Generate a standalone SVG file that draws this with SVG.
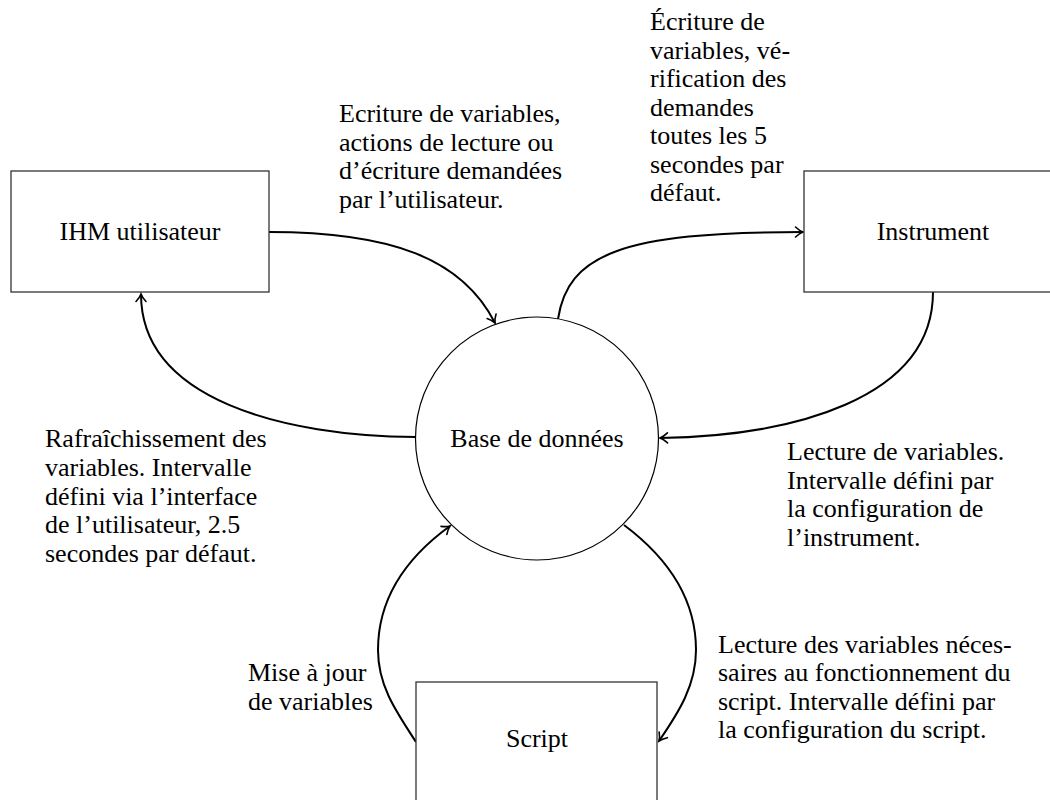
<svg xmlns="http://www.w3.org/2000/svg" width="1050" height="800" viewBox="0 0 1050 800">
  <style>
    .box { fill: #ffffff; stroke: #333333; stroke-width: 1.3; }
    .circ { fill: #ffffff; stroke: #000000; stroke-width: 1.2; }
    .lbl { font-family: "Liberation Serif", "Times New Roman", serif; font-size: 26px; fill: #000000; }
    .mid { text-anchor: middle; }
    .edge { fill: none; stroke: #000000; stroke-width: 2; marker-end: url(#arr); }
  </style>
  <defs>
    <marker id="arr" markerUnits="userSpaceOnUse" markerWidth="14" markerHeight="14" viewBox="-10 -7 14 14" refX="0" refY="0" orient="auto" overflow="visible">
      <path d="M-7.5,-5 C-4.5,-2.2 -1.8,-0.6 0,0 C-1.8,0.6 -4.5,2.2 -7.5,5" fill="none" stroke="#000000" stroke-width="1.6" stroke-linecap="round"/>
    </marker>
  </defs>
  <rect width="1050" height="800" fill="#ffffff"/>

  <g id="connectors">
    <path class="edge" d="M269,232 C390,232 462,258 495,323"/>
    <path class="edge" d="M558,319 C568,255 620,232 803,232"/>
    <path class="edge" d="M933,292 C933,400 790,436 660,438"/>
    <path class="edge" d="M416,437 C284,436 141,400 141,294"/>
    <path class="edge" d="M416,742 C395,710 378,685 378,650 C378,595 410,555 450,526"/>
    <path class="edge" d="M624,525 C664,555 696,595 696,650 C696,685 679,712 659,741"/>
  </g>

  <g id="ihm">
    <rect class="box" x="11" y="171" width="258" height="121"/>
    <text class="lbl mid" x="140" y="240">IHM utilisateur</text>
  </g>
  <g id="instrument">
    <rect class="box" x="804" y="171" width="258" height="121"/>
    <text class="lbl mid" x="933" y="240">Instrument</text>
  </g>
  <g id="base">
    <circle class="circ" cx="537" cy="438.5" r="121.5"/>
    <text class="lbl mid" x="537" y="447">Base de données</text>
  </g>
  <g id="script">
    <rect class="box" x="416" y="682" width="241" height="121"/>
    <text class="lbl mid" x="537" y="747">Script</text>
  </g>

  <g id="labels">
    <text class="lbl" x="339">
      <tspan x="339" y="122">Ecriture de variables,</tspan>
      <tspan x="339" y="150.5">actions de lecture ou</tspan>
      <tspan x="339" y="179">d’écriture demandées</tspan>
      <tspan x="339" y="207.5">par l’utilisateur.</tspan>
    </text>
    <text class="lbl" x="650">
      <tspan x="650" y="30">Écriture de</tspan>
      <tspan x="650" y="58.5">variables, vé-</tspan>
      <tspan x="650" y="87">rification des</tspan>
      <tspan x="650" y="115.5">demandes</tspan>
      <tspan x="650" y="144">toutes les 5</tspan>
      <tspan x="650" y="172.5">secondes par</tspan>
      <tspan x="650" y="201">défaut.</tspan>
    </text>
    <text class="lbl" x="45">
      <tspan x="45" y="447">Rafraîchissement des</tspan>
      <tspan x="45" y="475.8">variables. Intervalle</tspan>
      <tspan x="45" y="504.5">défini via l’interface</tspan>
      <tspan x="45" y="533.3">de l’utilisateur, 2.5</tspan>
      <tspan x="45" y="562">secondes par défaut.</tspan>
    </text>
    <text class="lbl" x="787">
      <tspan x="787" y="460">Lecture de variables.</tspan>
      <tspan x="787" y="488.6">Intervalle défini par</tspan>
      <tspan x="787" y="517.2">la configuration de</tspan>
      <tspan x="787" y="545.8">l’instrument.</tspan>
    </text>
    <text class="lbl" x="718">
      <tspan x="718" y="652.5">Lecture des variables néces-</tspan>
      <tspan x="718" y="681">saires au fonctionnement du</tspan>
      <tspan x="718" y="709.5">script. Intervalle défini par</tspan>
      <tspan x="718" y="738">la configuration du script.</tspan>
    </text>
    <text class="lbl" x="248">
      <tspan x="248" y="681">Mise à jour</tspan>
      <tspan x="248" y="709.5">de variables</tspan>
    </text>
  </g>
</svg>
